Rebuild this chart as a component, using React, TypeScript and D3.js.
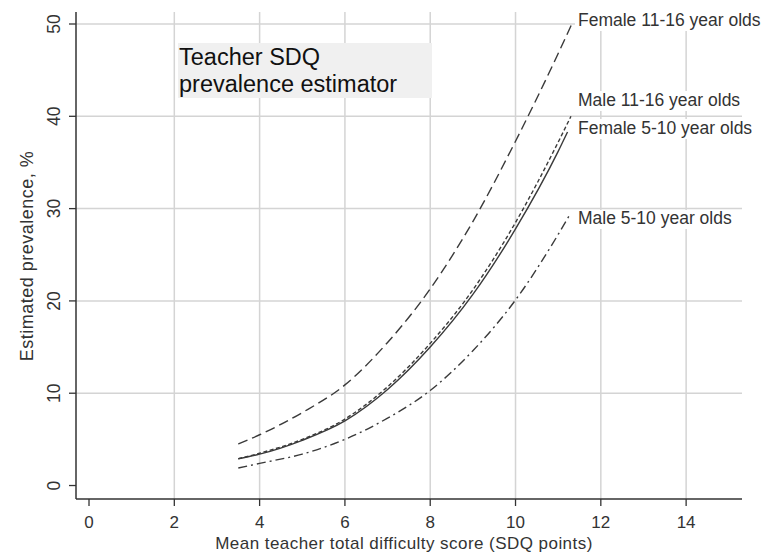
import React from "react";
import * as d3 from "d3";

const W = 767;
const H = 557;

// Mean teacher total difficulty score (SDQ points)
const scores = [3.5, 4, 5, 6, 7, 8, 9, 10, 11];

// Estimated prevalence (%) by group
const female1116 = [4.5, 5.5, 7.9, 10.9, 15.5, 21.3, 28.6, 37.3, 46.8];
const male1116 = [2.9, 3.5, 5.0, 7.2, 10.7, 15.4, 21.2, 28.5, 37.2];
const female510 = [2.9, 3.4, 4.9, 7.0, 10.4, 15.0, 20.7, 27.8, 36.2];
const male510 = [1.9, 2.4, 3.4, 5.0, 7.3, 10.3, 14.6, 20.1, 27.2];

// Curve end points (score, prevalence)
const ends = {
  female1116: [11.32, 50.0],
  male1116: [11.3, 40.0],
  female510: [11.22, 38.3],
  male510: [11.28, 29.4],
};

const xTicks = [0, 2, 4, 6, 8, 10, 12, 14];
const yTicks = [0, 10, 20, 30, 40, 50];

const series = [
  { name: "Female 11-16 year olds", values: female1116, end: ends.female1116, dash: "10,5", labelY: 26 },
  { name: "Male 11-16 year olds", values: male1116, end: ends.male1116, dash: "4,2.5", labelY: 106 },
  { name: "Female 5-10 year olds", values: female510, end: ends.female510, dash: "", labelY: 134 },
  { name: "Male 5-10 year olds", values: male510, end: ends.male510, dash: "9,4,2,4", labelY: 224 },
];

const FONT = "'Liberation Sans', Arial, sans-serif";
const LABEL_SIZE = 17.5;

function textWidth(str: string, size: number): number {
  const ctx = document.createElement("canvas").getContext("2d");
  if (!ctx) return str.length * size * 0.5;
  ctx.font = `${size}px 'Liberation Sans', Arial, sans-serif`;
  return ctx.measureText(str).width;
}

export default function App() {
  const left = 76;
  const right = 742;
  const top = 12;
  const bottom = 499;

  const x = d3.scaleLinear().domain([-0.305, 15.31]).range([left, right]);
  const y = d3.scaleLinear().domain([-1.46, 51.3]).range([bottom, top]);

  const line = d3
    .line<[number, number]>()
    .x((d) => x(d[0]))
    .y((d) => y(d[1]))
    .curve(d3.curveMonotoneX);

  const gridColor = "#d4d4d4";
  const axisColor = "#333";
  const textColor = "#333";

  return (
    <svg width={W} height={H} style={{ position: "absolute", left: 0, top: 0, background: "#fff" }}>
      {/* grid */}
      {xTicks
        .filter((t) => t !== 0)
        .map((t) => (
          <line key={"gx" + t} x1={x(t)} x2={x(t)} y1={top} y2={bottom} stroke={gridColor} strokeWidth={1.5} />
        ))}
      {yTicks
        .filter((t) => t !== 0)
        .map((t) => (
          <line key={"gy" + t} x1={left} x2={right} y1={y(t)} y2={y(t)} stroke={gridColor} strokeWidth={1.5} />
        ))}

      {/* title box */}
      <rect x={178} y={43} width={254} height={55} fill="#f0f0f0" />
      <text x={179} y={65} fontFamily={FONT} fontSize={23.5} fill="#111">
        Teacher SDQ
      </text>
      <text x={179} y={92} fontFamily={FONT} fontSize={23.5} fill="#111">
        prevalence estimator
      </text>

      {/* label backgrounds */}
      {series.map((s, i) => (
        <rect
          key={"bg" + s.name}
          x={575}
          y={s.labelY - (i === 3 ? 14 : 15)}
          width={textWidth(s.name, LABEL_SIZE) + 5}
          height={i === 3 ? 19 : 20}
          fill="#fff"
        />
      ))}

      {/* curves */}
      {series.map((s) => {
        const pts: [number, number][] = scores.map((sc, i) => [sc, s.values[i]]);
        pts.push([s.end[0], s.end[1]]);
        return (
          <path
            key={s.name}
            d={line(pts) || ""}
            fill="none"
            stroke="#3a3a3a"
            strokeWidth={1.4}
            strokeDasharray={s.dash || undefined}
          />
        );
      })}

      {/* series labels */}
      {series.map((s) => (
        <text key={"l" + s.name} x={578} y={s.labelY} fontFamily={FONT} fontSize={LABEL_SIZE} fill={textColor}>
          {s.name}
        </text>
      ))}

      {/* axes */}
      <line x1={left} x2={left} y1={top} y2={bottom} stroke={axisColor} strokeWidth={1.5} />
      <line x1={left} x2={right} y1={bottom} y2={bottom} stroke={axisColor} strokeWidth={1.5} />

      {xTicks.map((t) => (
        <g key={"xt" + t}>
          <line x1={x(t)} x2={x(t)} y1={bottom} y2={bottom + 7} stroke={axisColor} strokeWidth={1.3} />
          <text x={x(t)} y={528} textAnchor="middle" fontFamily={FONT} fontSize={17} fill={textColor}>
            {t}
          </text>
        </g>
      ))}
      {yTicks.map((t) => (
        <g key={"yt" + t}>
          <line x1={left - 7} x2={left} y1={y(t)} y2={y(t)} stroke={axisColor} strokeWidth={1.3} />
          <text
            transform={`translate(60,${y(t)}) rotate(-90)`}
            textAnchor="middle"
            fontFamily={FONT}
            fontSize={17.5}
            fill={textColor}
          >
            {t}
          </text>
        </g>
      ))}

      <text
        x={404}
        y={549}
        textAnchor="middle"
        fontFamily={FONT}
        fontSize={17}
        letterSpacing={0.45}
        fill={textColor}
      >
        Mean teacher total difficulty score (SDQ points)
      </text>
      <text
        transform={`translate(33,${256}) rotate(-90)`}
        textAnchor="middle"
        fontFamily={FONT}
        fontSize={18}
        letterSpacing={0.5}
        fill={textColor}
      >
        Estimated prevalence, %
      </text>
    </svg>
  );
}
